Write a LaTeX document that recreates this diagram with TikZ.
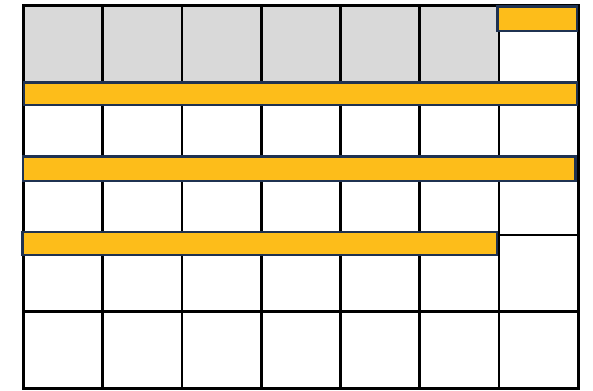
\documentclass[tikz,border=0pt]{standalone}
\usetikzlibrary{positioning}
\definecolor{slotgold}{HTML}{FDBD1A}
\definecolor{slotnavy}{HTML}{1F3251}
\definecolor{slotgray}{HTML}{D9D9D9}

\begin{document}
\begin{tikzpicture}[x=1pt, y=-1pt,
    gridline/.style={line width=2.6pt, black, line cap=rect},
    barbox/.style={draw=slotnavy, line width=2.5pt, fill=slotgold},
  ]
  \useasboundingbox (0,0) rectangle (593,390);

  % header row
  \fill[slotgray] (23.5,5.3) rectangle (499,82);

  % grid
  \foreach \i in {0,...,7}
    \draw[gridline] ({23.5+79.25*\i},5.3) -- ({23.5+79.25*\i},388);
  \foreach \j in {0,...,5}
    \draw[gridline] (23.5,{5.3+76.6*\j}) -- (578.25,{5.3+76.6*\j});

  % bars
  \draw[barbox] (497.5,6.5) rectangle (577,31);
  \draw[barbox] (24,82.5) rectangle (577,105);
  \draw[barbox] (23,156.5) rectangle (575.5,181);
  \draw[barbox] (22.5,232) rectangle (497,255);
\end{tikzpicture}
\end{document}
